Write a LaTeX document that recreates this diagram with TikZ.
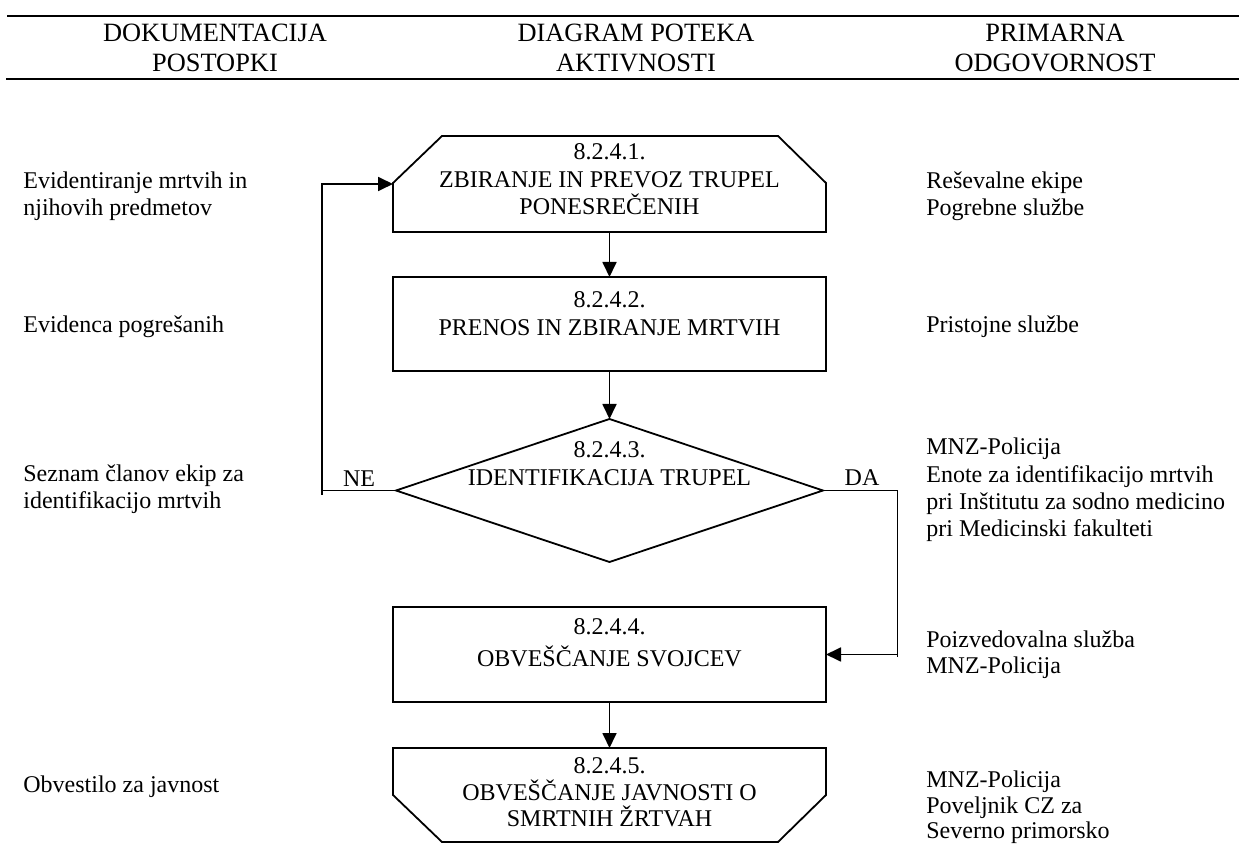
\documentclass[tikz,border=0pt]{standalone}
\usepackage{fontspec}
\setmainfont{Liberation Serif}
\usetikzlibrary{arrows.meta,shapes.geometric,calc}
\tikzset{
  ln/.style={line width=0.9pt},
  arr/.style={ln, -{Triangle[length=7.5pt,width=7pt]}},
  frame/.style={rectangle, inner sep=0pt, outer sep=0pt, minimum width=216.5pt},
  txt/.style={font=\fontsize{12pt}{13.8pt}\selectfont, inner sep=0pt, anchor=base},
  ltxt/.style={txt, anchor=base west},
  htxt/.style={font=\fontsize{13.2pt}{15pt}\selectfont, inner sep=0pt, anchor=base},
  rule/.style={line width=1pt},
}
\begin{document}
\begin{tikzpicture}[x=0.5pt,y=-0.5pt]
\useasboundingbox (0,0) rectangle (1239,845);
% header
\draw[rule] (7,15.7) -- (1239,15.7);
\draw[rule] (6,79) -- (1239,79);
\node[htxt] (h1a) at (215,42) {DOKUMENTACIJA};
\node[htxt] (h1b) at (215,72) {POSTOPKI};
\node[htxt] (h2a) at (636,42) {DIAGRAM POTEKA};
\node[htxt] (h2b) at (636,72) {AKTIVNOSTI};
\node[htxt] (h3a) at (1055,42) {PRIMARNA};
\node[htxt] (h3b) at (1055,72) {ODGOVORNOST};

% shapes
\node[frame, minimum height=48pt] (b1) at (609.5,184) {};
\draw[ln] (393,232) -- (826,232) -- (826,183) -- (778,136) -- (442,136) -- (393,183) -- cycle;
\node[frame, draw, ln, minimum height=47pt] (b2) at (609.5,324) {};
\node[draw, ln, diamond, minimum width=213.5pt, minimum height=71.5pt, inner sep=0pt, outer sep=0pt] (d3) at (609.5,490.5) {};
\node[frame, draw, ln, minimum height=47.5pt] (b4) at (609.5,654.5) {};
\node[frame, minimum height=47pt] (b5) at (609.5,795) {};
\draw[ln] (393,748) -- (826,748) -- (826,795) -- (778,842) -- (442,842) -- (393,795) -- cycle;

% shape texts
\node[txt] (t1a) at (609.5,160) {8.2.4.1.};
\node[txt] (t1b) at (609.5,188) {ZBIRANJE IN PREVOZ TRUPEL};
\node[txt] (t1c) at (609.5,215) {PONESREČENIH};
\node[txt] (t2a) at (609.5,308) {8.2.4.2.};
\node[txt] (t2b) at (609.5,336) {PRENOS IN ZBIRANJE MRTVIH};
\node[txt] (t3a) at (609.5,458) {8.2.4.3.};
\node[txt] (t3b) at (609.5,486) {IDENTIFIKACIJA TRUPEL};
\node[txt] (t4a) at (609.5,634) {8.2.4.4.};
\node[txt] (t4b) at (609.5,667) {OBVEŠČANJE SVOJCEV};
\node[txt] (t5a) at (609.5,773) {8.2.4.5.};
\node[txt] (t5b) at (609.5,800) {OBVEŠČANJE JAVNOSTI O};
\node[txt] (t5c) at (609.5,827) {SMRTNIH ŽRTVAH};

% connectors
\draw[arr] (b1.south) -- (b2.north);
\draw[arr] (b2.south) -- (d3.north);
\draw[arr] (b4.south) -- (b5.north);
\coordinate (ne) at (322,490.5);
\coordinate (da) at (897.5,490.5);
\draw[arr] (d3.west) -- (ne) |- (b1.west);
\draw[arr] (d3.east) -- (da) |- (b4.east);
\draw[ln] (ne) -- ++(0,5);
\draw[ln] (b4.east -| da) -- ++(0,3);
\node[txt] (ne-l) at (359,487) {NE};
\node[txt] (da-l) at (862,486) {DA};

% left column
\node[ltxt] (l1a) at (23,189) {Evidentiranje mrtvih in};
\node[ltxt] (l1b) at (23,216) {njihovih predmetov};
\node[ltxt] (l2) at (23,333) {Evidenca pogrešanih};
\node[ltxt] (l3a) at (23,482) {Seznam članov ekip za};
\node[ltxt] (l3b) at (23,509) {identifikacijo mrtvih};
\node[ltxt] (l5) at (23,792) {Obvestilo za javnost};

% right column
\node[ltxt] (r1a) at (926,189) {Reševalne ekipe};
\node[ltxt] (r1b) at (926,216) {Pogrebne službe};
\node[ltxt] (r2) at (926,333) {Pristojne službe};
\node[ltxt] (r3a) at (926,455) {MNZ-Policija};
\node[ltxt] (r3b) at (926,483) {Enote za identifikacijo mrtvih};
\node[ltxt] (r3c) at (926,510) {pri Inštitutu za sodno medicino};
\node[ltxt] (r3d) at (926,537) {pri Medicinski fakulteti};
\node[ltxt] (r4a) at (926,647) {Poizvedovalna služba};
\node[ltxt] (r4b) at (926,674) {MNZ-Policija};
\node[ltxt] (r5a) at (926,787) {MNZ-Policija};
\node[ltxt] (r5b) at (926,813) {Poveljnik CZ za};
\node[ltxt] (r5c) at (926,838) {Severno primorsko};
\end{tikzpicture}
\end{document}
